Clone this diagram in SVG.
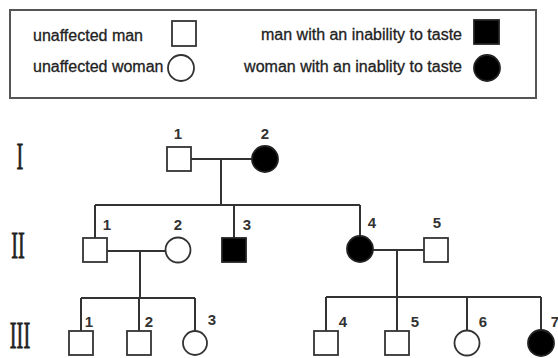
<svg xmlns="http://www.w3.org/2000/svg" width="558" height="358" viewBox="0 0 558 358">
<style>
.ln{stroke:#333;stroke-width:2;fill:none}
.un{fill:#fff;stroke:#333;stroke-width:1.8}
.af{fill:#000;stroke:#222;stroke-width:1.8}
.lg{font-family:"Liberation Sans",Arial,sans-serif;font-size:16px;fill:#222;stroke:#222;stroke-width:0.3}
.num{font-family:"Liberation Sans",Arial,sans-serif;font-size:15px;font-weight:bold;fill:#333;text-anchor:middle}
.gen{font-family:"Liberation Serif","Times New Roman",serif;font-size:37px;fill:#222;stroke:#222;stroke-width:0.8;text-anchor:middle}
</style>
<rect width="558" height="358" fill="#fff"/>
<g id="legend">
<rect x="10" y="10" width="526" height="88" fill="#fff" stroke="#555" stroke-width="2"/>
<text class="lg" x="33" y="41">unaffected man</text>
<rect class="un" x="172" y="21" width="24" height="25"/>
<text class="lg" x="33" y="72">unaffected woman</text>
<circle class="un" cx="181" cy="68" r="13"/>
<text class="lg" x="462" y="40" text-anchor="end">man with an inability to taste</text>
<rect class="af" x="474" y="20" width="25" height="24"/>
<text class="lg" x="462" y="72" text-anchor="end">woman with an inablity to taste</text>
<circle class="af" cx="487" cy="68" r="13"/>
</g>
<g id="generations">
<text class="gen" transform="translate(20,169) scale(0.55,1)">I</text>
<text class="gen" transform="translate(18,258) scale(0.55,1)">II</text>
<text class="gen" transform="translate(20,348) scale(0.55,1)">III</text>
</g>
<g id="connectors">
<path class="ln" d="M191 159H252M221 159V205M95 205H360M95 205V238M234 205V238M360 205V236"/>
<path class="ln" d="M107 251H166M140 251V298M81 298H195M81 298V331M139 298V331M195 298V331"/>
<path class="ln" d="M373 250H424M397 250V331M326 297H541M326 297V331M467 297V330M541 297V330"/>
</g>
<g id="I-1"><rect class="un" x="167" y="147" width="24" height="24"/><text class="num" x="178" y="139">1</text></g>
<g id="I-2"><circle class="af" cx="265" cy="159" r="13"/><text class="num" x="265" y="139">2</text></g>
<g id="II-1"><rect class="un" x="83" y="238" width="24" height="24"/><text class="num" x="107" y="230">1</text></g>
<g id="II-2"><circle class="un" cx="178" cy="250" r="12.5"/><text class="num" x="178" y="230">2</text></g>
<g id="II-3"><rect class="af" x="222" y="238" width="24" height="24"/><text class="num" x="247" y="230">3</text></g>
<g id="II-4"><circle class="af" cx="360" cy="249" r="13"/><text class="num" x="372" y="228">4</text></g>
<g id="II-5"><rect class="un" x="424" y="238" width="24" height="24"/><text class="num" x="437" y="228">5</text></g>
<g id="III-1"><rect class="un" x="69" y="331" width="24" height="24"/><text class="num" x="89" y="327">1</text></g>
<g id="III-2"><rect class="un" x="127" y="331" width="24" height="24"/><text class="num" x="149" y="327">2</text></g>
<g id="III-3"><circle class="un" cx="195" cy="343" r="12"/><text class="num" x="212" y="325">3</text></g>
<g id="III-4"><rect class="un" x="314" y="331" width="24" height="24"/><text class="num" x="343" y="327">4</text></g>
<g id="III-5"><rect class="un" x="385" y="331" width="24" height="24"/><text class="num" x="415" y="327">5</text></g>
<g id="III-6"><circle class="un" cx="467" cy="343" r="12.5"/><text class="num" x="483" y="327">6</text></g>
<g id="III-7"><circle class="af" cx="541" cy="343" r="13"/><text class="num" x="555" y="327">7</text></g>
</svg>
